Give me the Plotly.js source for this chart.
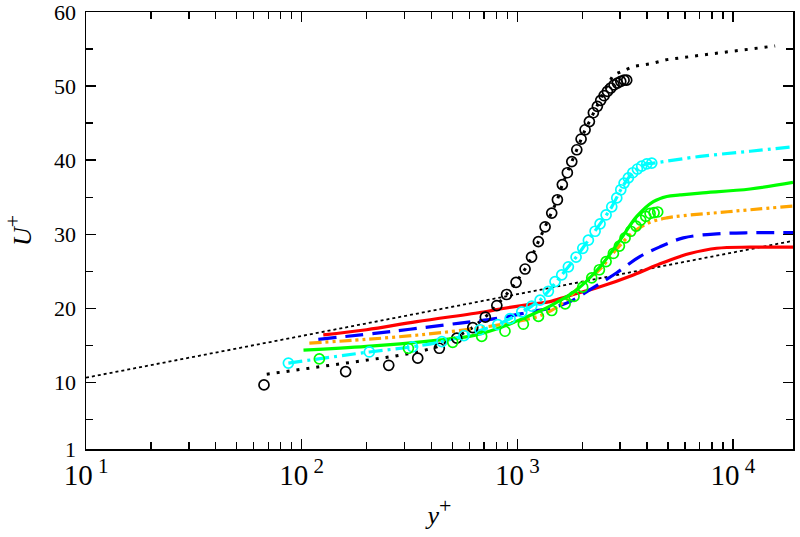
<!DOCTYPE html>
<html>
<head>
<meta charset="utf-8">
<script src="https://cdn.plot.ly/plotly-3.0.1.min.js"></script>
<style>html,body{margin:0;padding:0;background:#fff;}#chart{width:800px;height:537px;}</style>
</head>
<body>
<div id="chart"></div>
<script>
// ---- data ----
const logLawX = [10, 19000];
const logLawY = [10.63, 29.1];

const refLineX = [68.9, 140, 266, 354, 424, 524, 621, 711, 804, 892, 987, 1087, 1165, 1253, 1346, 1445, 1535, 1618, 1707, 1790, 1888, 1977, 2063, 2160, 2254, 2352, 2438, 2600, 2791, 3106, 3455, 4131, 4936, 7046, 10020, 15700];
const refLineY = [11.1, 12.35, 13.5, 14.15, 14.8, 16.1, 17.4, 18.8, 20.4, 21.9, 23.5, 25.3, 26.9, 29.0, 31.0, 32.85, 34.65, 36.7, 38.3, 39.8, 41.4, 42.85, 44.1, 45.2, 46.4, 47.4, 48.3, 50.0, 51.5, 52.1, 52.66, 53.0, 53.57, 54.15, 54.74, 55.42];

const blackCircX = [66.9, 160, 253.5, 345.5, 435, 524, 622, 711, 804, 892, 987, 1087, 1165, 1253, 1346, 1445, 1535, 1618, 1707, 1790, 1888, 1977, 2063, 2160, 2254, 2352, 2438, 2527, 2618, 2714, 2812, 2912, 3020, 3129, 3218];
const blackCircY = [9.65, 11.45, 12.3, 13.26, 14.6, 15.96, 17.39, 18.8, 20.37, 21.86, 23.5, 25.3, 26.9, 29.0, 31.0, 32.85, 34.65, 36.7, 38.3, 39.8, 41.4, 42.85, 44.1, 45.2, 46.4, 47.26, 48.07, 48.7, 49.28, 49.74, 50.15, 50.4, 50.64, 50.8, 50.8];

const cyanCircX = [86.8, 206, 327, 447, 566, 672, 812, 926, 1049, 1167, 1276, 1394, 1497, 1608, 1726, 1874, 2013, 2137, 2296, 2421, 2582, 2743, 2894, 3020, 3129, 3275, 3434, 3606, 3776, 3988, 4205];
const cyanCircY = [12.6, 14.1, 14.8, 15.5, 16.3, 17.1, 17.8, 18.6, 19.5, 20.3, 21.1, 22.3, 23.6, 24.5, 25.6, 26.9, 28.1, 29.2, 30.4, 31.4, 32.6, 33.7, 34.9, 36.0, 36.9, 37.6, 38.3, 38.8, 39.2, 39.5, 39.6];

const cyanLineX = [86.8, 206, 327, 447, 566, 672, 812, 926, 1049, 1167, 1276, 1394, 1608, 1874, 2137, 2421, 2743, 3020, 3275, 3606, 3988, 4276, 7046, 12020, 19000];
const cyanLineY = [12.6, 14.1, 14.8, 15.5, 16.3, 17.0, 17.8, 18.6, 19.5, 20.3, 21.1, 22.3, 24.5, 26.9, 29.2, 31.4, 33.7, 36.0, 37.6, 38.8, 39.5, 39.6, 40.5, 41.2, 41.8];

const greenCircX = [120.8, 312.6, 502, 684, 877, 1067, 1254, 1445, 1668, 1834, 2012, 2215, 2404, 2582, 2791, 2976, 3162, 3360, 3556, 3738, 3944, 4130, 4310, 4480];
const greenCircY = [13.16, 14.6, 15.4, 16.2, 16.9, 17.85, 18.9, 19.7, 20.6, 21.6, 22.85, 24.1, 25.2, 26.3, 27.4, 28.4, 29.5, 30.4, 31.1, 31.9, 32.4, 32.8, 32.9, 33.0];

const greenLineX = [102, 200, 400, 600, 800, 1000, 1200, 1419, 1888, 2421, 2998, 3583, 4276, 4936, 5690, 7046, 12020, 19000];
const greenLineY = [14.35, 14.85, 15.6, 16.2, 17.2, 18.3, 19.3, 20.3, 22.5, 25.6, 29.2, 32.4, 34.4, 35.1, 35.3, 35.55, 36.1, 37.0];

const orangeLineX = [108.6, 200, 380, 648, 1000, 1277, 1500, 1757, 2000, 2421, 2894, 3455, 4130, 4936, 5890, 8414, 12020, 19000];
const orangeLineY = [15.3, 15.8, 16.5, 17.3, 18.2, 19.0, 20.0, 21.6, 23.3, 25.3, 28.0, 30.3, 31.6, 32.2, 32.5, 32.9, 33.3, 33.8];

const blueLineX = [119.5, 266, 543, 832, 1189, 1419, 1757, 2254, 2894, 3715, 4594, 5890, 8414, 12020, 19000];
const blueLineY = [15.8, 16.9, 18.0, 18.7, 19.6, 20.0, 20.9, 22.8, 24.8, 27.0, 28.3, 29.5, 30.05, 30.2, 30.2];

const redLineX = [126, 200, 342, 697, 832, 1189, 1419, 1700, 2421, 3455, 4594, 5690, 6310, 8414, 12020, 19000];
const redLineY = [16.4, 17.1, 18.2, 19.5, 19.9, 20.6, 20.9, 21.6, 22.9, 24.5, 26.0, 27.0, 27.4, 28.1, 28.25, 28.25];

const xTickVals = [10, 100, 1000, 10000];
const xTickText = ['10<sup><span style="font-size:21px"> 1</span></sup>', '10<sup><span style="font-size:21px"> 2</span></sup>', '10<sup><span style="font-size:21px"> 3</span></sup>', '10<sup><span style="font-size:21px"> 4</span></sup>'];
const xMinorVals = [20,30,40,50,60,70,80,90,200,300,400,500,600,700,800,900,2000,3000,4000,5000,6000,7000,8000,9000];
const yTickVals = [1, 10, 20, 30, 40, 50, 60];
const yTickText = ['1', '10', '20', '30', '40', '50', '60'];
const yMinorVals = [5, 15, 25, 35, 45, 55];

// ---- traces ----
const traces = [
  {x: logLawX, y: logLawY, mode: 'lines', line: {color: '#000', width: 1.8, dash: '3px,3px'}},
  {x: refLineX, y: refLineY, mode: 'lines', line: {color: '#000', width: 3, dash: '3px,7px'}},
  {x: redLineX, y: redLineY, mode: 'lines', line: {color: '#ff0000', width: 3.2, shape: 'spline'}},
  {x: blueLineX, y: blueLineY, mode: 'lines', line: {color: '#0000ff', width: 3.2, dash: '18px,9px', shape: 'spline'}},
  {x: orangeLineX, y: orangeLineY, mode: 'lines', line: {color: '#ffa500', width: 3.2, dash: '12px,4px,3px,4px,3px,4px', shape: 'spline'}},
  {x: greenLineX, y: greenLineY, mode: 'lines', line: {color: '#00ff00', width: 3.2, shape: 'spline'}},
  {x: cyanLineX, y: cyanLineY, mode: 'lines', line: {color: '#00ffff', width: 3.2, dash: '14px,5px,3px,5px', shape: 'spline'}},
  {x: blackCircX, y: blackCircY, mode: 'markers', marker: {symbol: 'circle-open', size: 10, color: '#000', line: {width: 1.7, color: '#000'}}},
  {x: cyanCircX, y: cyanCircY, mode: 'markers', marker: {symbol: 'circle-open', size: 10, color: '#00ffff', line: {width: 1.7, color: '#00ffff'}}},
  {x: greenCircX, y: greenCircY, mode: 'markers', marker: {symbol: 'circle-open', size: 10, color: '#00ff00', line: {width: 1.7, color: '#00ff00'}}}
];

const font = "'Liberation Serif', 'DejaVu Serif', serif";
const layout = {
  width: 800, height: 537,
  margin: {l: 86, r: 7, t: 12, b: 88},
  paper_bgcolor: '#fff', plot_bgcolor: '#fff',
  showlegend: false,
  font: {family: font, size: 22, color: '#000'},
  xaxis: {
    type: 'log', range: [1, Math.log10(19000)],
    tickmode: 'array', tickvals: xTickVals, ticktext: xTickText,
    ticks: 'inside', ticklen: 10, tickwidth: 1.3, tickcolor: '#000',
    minor: {tickmode: 'array', tickvals: xMinorVals, ticks: 'inside', ticklen: 7, tickwidth: 1.3, tickcolor: '#000', showgrid: false},
    showline: true, linecolor: '#000', linewidth: 1.5, mirror: 'allticks',
    showgrid: false, zeroline: false,
    tickfont: {family: font, size: 29},
    ticklabelstandoff: 0,
    ticklabeloverflow: 'allow',
    title: {text: '<i>y</i><sup><span style="font-size:22px">+</span></sup>', font: {family: font, size: 26}, standoff: 15}
  },
  yaxis: {
    range: [1, 60],
    tickmode: 'array', tickvals: yTickVals, ticktext: yTickText,
    ticks: 'inside', ticklen: 10, tickwidth: 1.3, tickcolor: '#000',
    minor: {tickmode: 'array', tickvals: yMinorVals, ticks: 'inside', ticklen: 7, tickwidth: 1.3, tickcolor: '#000', showgrid: false},
    showline: true, linecolor: '#000', linewidth: 1.5, mirror: 'allticks',
    showgrid: false, zeroline: false,
    tickfont: {family: font, size: 22},
    ticklabelstandoff: 4,
    ticklabeloverflow: 'allow',
    title: {text: '<i>U</i><sup><span style="font-size:22px">+</span></sup>', font: {family: font, size: 26}, standoff: 23}
  }
};

Plotly.newPlot('chart', traces, layout, {staticPlot: true, displayModeBar: false});
</script>
</body>
</html>
